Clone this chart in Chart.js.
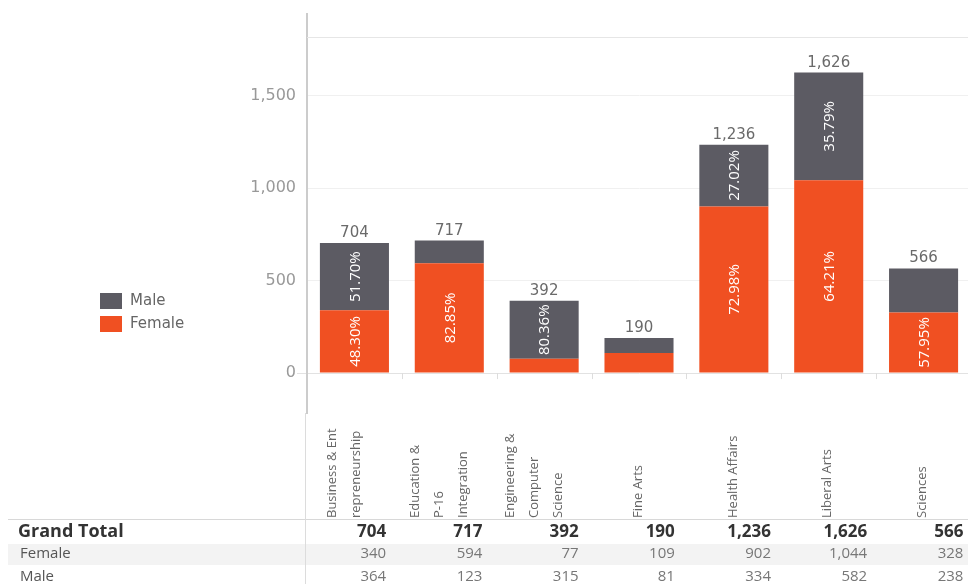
<!DOCTYPE html>
<html>
<head>
<meta charset="utf-8">
<script src="https://cdn.jsdelivr.net/npm/chart.js@4.4.1/dist/chart.umd.min.js"></script>
<style>
  html, body { margin: 0; padding: 0; background: #fff; overflow: hidden; }
  #wrap { position: absolute; left: 0; top: 0; width: 972px; height: 584px; }
</style>
</head>
<body>
<div id="wrap"><canvas id="chart" width="972" height="584"></canvas></div>
<script>
// data
const categories = [
  ["Business & Ent", "repreneurship"],
  ["Education &", "P-16", "Integration"],
  ["Engineering &", "Computer", "Science"],
  ["Fine Arts"],
  ["Health Affairs"],
  ["Liberal Arts"],
  ["Sciences"]
];
const female = [340, 594, 77, 109, 902, 1044, 328];
const male = [364, 123, 315, 81, 334, 582, 238];
const yTicks = [0, 500, 1000, 1500];
const rowLabels = ["Grand Total", "Female", "Male"];

const MALE = "#5c5b63", FEMALE = "#f05022";
const totals = female.map((f, i) => f + male[i]);
const fmt = v => v.toLocaleString("en-US");

// extra bits: top rule, legend, rotated category labels, table
const decor = {
  id: "decor",
  beforeDatasetsDraw(chart) {
    const { ctx, chartArea: a, scales: { x, y } } = chart;
    ctx.save();
    ctx.strokeStyle = "#e6e6e6"; ctx.lineWidth = 1;
    ctx.beginPath(); ctx.moveTo(a.left, a.top + 23.5); ctx.lineTo(a.right, a.top + 23.5); ctx.stroke();
    // category boundary ticks
    const band = x.getPixelForValue(1) - x.getPixelForValue(0);
    const y0 = y.getPixelForValue(0);
    ctx.strokeStyle = "#dddddd";
    for (let i = 1; i < categories.length; i++) {
      const bx = Math.round(x.getPixelForValue(i) - band / 2) + 0.5;
      ctx.beginPath(); ctx.moveTo(bx, y0); ctx.lineTo(bx, y0 + 6); ctx.stroke();
    }
    ctx.restore();
  },
  afterDraw(chart) {
    const { ctx, chartArea: a, scales: { x } } = chart;
    ctx.save();

    // legend
    [["Male", MALE, 293], ["Female", FEMALE, 316]].forEach(([t, c, ty]) => {
      ctx.fillStyle = c; ctx.fillRect(100, ty, 22, 16);
      ctx.fillStyle = "#666"; ctx.font = "15px 'DejaVu Sans'";
      ctx.textAlign = "left"; ctx.textBaseline = "middle";
      ctx.fillText(t, 130, ty + 8);
    });

    // lower separator below the axis
    ctx.strokeStyle = "#dcdcdc"; ctx.lineWidth = 1;
    ctx.beginPath(); ctx.moveTo(305.5, a.bottom); ctx.lineTo(305.5, 584); ctx.stroke();

    // category labels, rotated
    ctx.font = "13px 'Open Sans'"; ctx.fillStyle = "#666";
    ctx.textAlign = "left"; ctx.textBaseline = "middle";
    categories.forEach((lines, i) => {
      const cx = x.getPixelForValue(i);
      const n = lines.length;
      lines.forEach((ln, k) => {
        const lx = cx + (k - (n - 1) / 2) * 24 - (n > 1 ? 10 : 1);
        ctx.save();
        ctx.translate(lx, 518);
        ctx.rotate(-Math.PI / 2);
        ctx.fillText(ln, 0, 0);
        ctx.restore();
      });
    });

    // table
    ctx.fillStyle = "#f3f3f3"; ctx.fillRect(8, 544, 964, 21);
    ctx.strokeStyle = "#d8d8d8";
    ctx.beginPath(); ctx.moveTo(8, 519.5); ctx.lineTo(972, 519.5); ctx.stroke();
    ctx.strokeStyle = "#dcdcdc";
    ctx.beginPath(); ctx.moveTo(305.5, 505); ctx.lineTo(305.5, 584); ctx.stroke();

    const rows = [totals, female, male];
    const rowY = [532, 554, 577];
    rows.forEach((vals, r) => {
      ctx.textBaseline = "middle";
      ctx.textAlign = "left";
      ctx.font = r === 0 ? "bold 18px 'Open Sans'" : "15px 'Open Sans'";
      ctx.fillStyle = r === 0 ? "#333" : "#555";
      ctx.fillText(rowLabels[r], r === 0 ? 18 : 20, rowY[r]);
      ctx.textAlign = "right";
      ctx.font = r === 0 ? "bold 17px 'Open Sans'" : "15px 'Open Sans'";
      ctx.fillStyle = r === 0 ? "#333" : "#777";
      vals.forEach((v, i) => ctx.fillText(fmt(v), 305 + 96.2 * (i + 1) - 15, rowY[r]));
    });
    ctx.restore();
  }
};

// totals on top, shares inside the segments
const barLabels = {
  id: "barLabels",
  afterDatasetsDraw(chart) {
    const { ctx } = chart;
    const fMeta = chart.getDatasetMeta(0), mMeta = chart.getDatasetMeta(1);
    ctx.save();
    ctx.font = "15px 'DejaVu Sans'"; ctx.fillStyle = "#6a6a6a";
    ctx.textAlign = "center"; ctx.textBaseline = "alphabetic";
    mMeta.data.forEach((bar, i) => ctx.fillText(fmt(totals[i]), bar.x, bar.y - 6));

    ctx.font = "15px 'Open Sans'"; ctx.fillStyle = "#fff";
    [[fMeta, female], [mMeta, male]].forEach(([meta, vals]) => {
      meta.data.forEach((bar, i) => {
        const txt = (vals[i] / totals[i] * 100).toFixed(2) + "%";
        const h = Math.abs(bar.base - bar.y);
        if (h < ctx.measureText(txt).width + 4) return;
        ctx.save();
        ctx.translate(bar.x, (bar.y + bar.base) / 2);
        ctx.rotate(-Math.PI / 2);
        ctx.textAlign = "center"; ctx.textBaseline = "middle";
        ctx.fillText(txt, 0, 1);
        ctx.restore();
      });
    });
    ctx.restore();
  }
};

new Chart(document.getElementById("chart"), {
  type: "bar",
  data: {
    labels: categories.map(c => c.join(" ")),
    datasets: [
      { label: "Female", data: female, backgroundColor: FEMALE },
      { label: "Male", data: male, backgroundColor: MALE }
    ]
  },
  options: {
    responsive: false,
    animation: false,
    events: [],
    layout: { padding: { top: 14, right: 1, bottom: 171, left: 0 } },
    datasets: { bar: { categoryPercentage: 1, barPercentage: 0.728 } },
    plugins: { legend: { display: false }, tooltip: { enabled: false } },
    scales: {
      x: { display: false, stacked: true },
      y: {
        stacked: true, min: -216, max: 1943,
        afterBuildTicks(s) { s.ticks = yTicks.map(v => ({ value: v })); },
        afterFit(s) { s.width = 307; },
        ticks: { padding: 1, color: "#999", font: { family: "DejaVu Sans", size: 16 }, callback: v => fmt(v) },
        grid: {
          tickLength: 10,
          color: c => (c.tick && c.tick.value === 0) ? "#e2e2e2" : "#f0f0f0",
          tickColor: c => (c.tick && c.tick.value === 0) ? "#e2e2e2" : "rgba(0,0,0,0)"
        },
        border: { color: "#cccccc", width: 2 }
      }
    }
  },
  plugins: [decor, barLabels]
});
</script>
</body>
</html>
